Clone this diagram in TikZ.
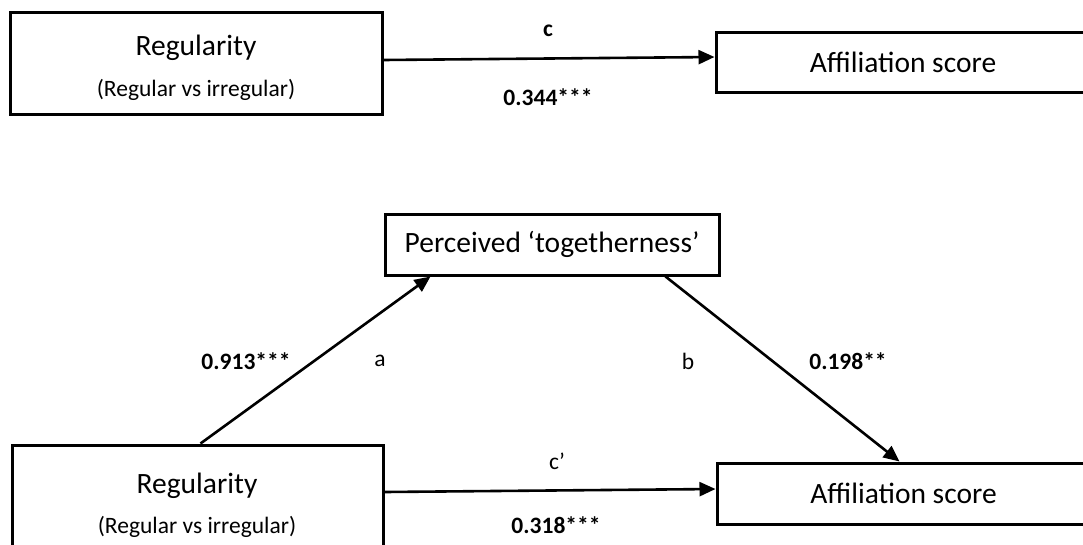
\documentclass[tikz,border=0pt]{standalone}
\usepackage{fontspec}
\setmainfont{Carlito}
\usetikzlibrary{arrows.meta}
\begin{document}
\begin{tikzpicture}[x=1pt,y=-1pt,
  box/.style={draw=black, line width=3pt, rectangle, inner sep=0pt, font=\fontsize{29.5}{35}\selectfont},
  conn/.style={line width=2.6pt, -{Triangle[length=16pt,width=14pt]}},
  big/.style={inner sep=0pt, font=\fontsize{29.5}{35}\selectfont},
  mid/.style={inner sep=0pt, font=\fontsize{23.5}{28}\selectfont},
  lbl/.style={inner sep=0pt, font=\fontsize{23.5}{28}\selectfont},
  lblb/.style={inner sep=0pt, font=\fontsize{23.5}{28}\selectfont\bfseries}]
\useasboundingbox (0,0) rectangle (1083,544);
% top model
\node[box, minimum width=372pt, minimum height=102pt] (topreg) at (196,63) {};
\node[big] (topregt) at (196,48) {Regularity};
\node[mid] (topregs) at (196,90) {(Regular vs irregular)};
\node[box, minimum width=374pt, minimum height=60pt] (topaff) at (903,62) {Affiliation score};
\draw[conn] ([yshift=3pt]topreg.east) -- ([yshift=5pt]topaff.west);
\node[lblb] (lc) at (548,31) {c};
\node[lblb] (lcv) at (548,97) {0.344***};
% bottom model
\node[box, minimum width=334pt, minimum height=61pt] (perc) at (552,244.5) {Perceived ‘togetherness’};
\node[box, minimum width=371pt, minimum height=104pt] (botreg) at (197.5,497) {};
\node[big] (botregt) at (197,486) {Regularity};
\node[mid] (botregs) at (197,527) {(Regular vs irregular)};
\node[box, minimum width=373pt, minimum height=61pt] (botaff) at (903.5,493.5) {Affiliation score};
\draw[conn] ([xshift=3pt]botreg.north) -- ([xshift=47pt]perc.south west);
\draw[conn] ([xshift=282pt]perc.south west) -- ([xshift=184pt]botaff.north west);
\draw[conn] ([yshift=5pt]botreg.east) -- ([yshift=4.5pt]botaff.west);
\node[lblb] (la) at (246,361) {0.913***};
\node[lbl] (lat) at (380,361) {a};
\node[lbl] (lbt) at (688,361) {b};
\node[lblb] (lb) at (848,361) {0.198**};
\node[lbl] (lcp) at (557,461) {c’};
\node[lblb] (lcpv) at (556,525) {0.318***};
\end{tikzpicture}
\end{document}
